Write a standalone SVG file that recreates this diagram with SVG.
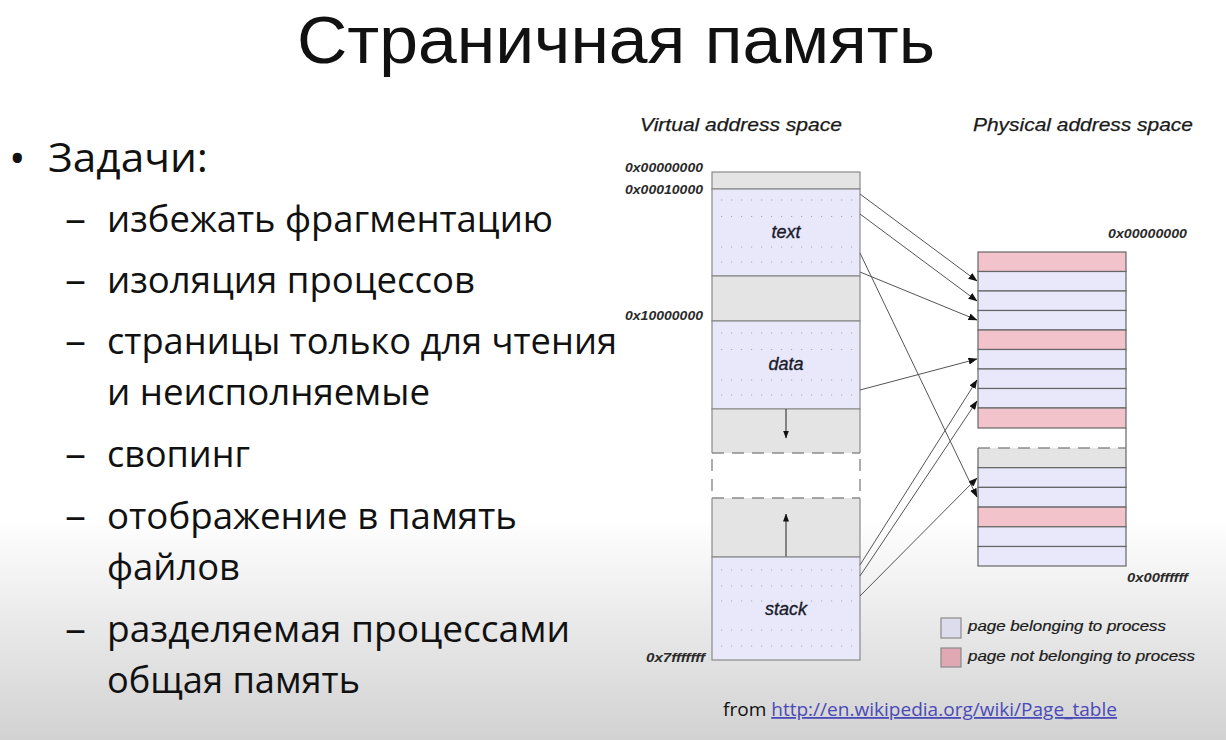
<svg xmlns="http://www.w3.org/2000/svg" width="1226" height="740" viewBox="0 0 1226 740">
  <defs>
    <linearGradient id="bg" x1="0" y1="0" x2="0" y2="1">
      <stop offset="0" stop-color="#ffffff"/>
      <stop offset="0.70" stop-color="#ffffff"/>
      <stop offset="0.83" stop-color="#ebebeb"/>
      <stop offset="1" stop-color="#d2d2d2"/>
    </linearGradient>
    <marker id="ah" markerWidth="9" markerHeight="7" refX="8.5" refY="3.5" orient="auto" markerUnits="userSpaceOnUse">
      <path d="M0,0 L9,3.5 L0,7 Z" fill="#111"/>
    </marker>
    <marker id="ahs" markerWidth="8" markerHeight="6" refX="7.5" refY="3" orient="auto" markerUnits="userSpaceOnUse">
      <path d="M0,0 L8,3 L0,6 Z" fill="#111"/>
    </marker>
  </defs>
  <style>
    .slide { font-family: "Open Sans", "Noto Sans", "DejaVu Sans", sans-serif; fill: #111; }
    .item { font-size: 36px; }
    .hdr { font-family: "Liberation Sans", Arial, sans-serif; font-style: italic; font-size: 18px; fill: #1a1a1a; stroke: #1a1a1a; stroke-width: 0.25; }
    .hex { font-family: "Liberation Sans", Arial, sans-serif; font-style: italic; font-weight: bold; font-size: 12.5px; fill: #2a2a2a; }
    .seg { font-family: "Liberation Sans", Arial, sans-serif; font-style: italic; font-size: 18px; fill: #1a1a2a; stroke: #1a1a2a; stroke-width: 0.35; text-anchor: middle; }
    .leg { font-family: "Liberation Sans", Arial, sans-serif; font-style: italic; font-size: 14px; fill: #1a1a1a; stroke: #1a1a1a; stroke-width: 0.2; }
    .lav { fill: #e8e8fa; stroke: #8a8a8a; stroke-width: 1.2; }
    .gry { fill: #e4e4e4; stroke: #8a8a8a; stroke-width: 1.2; }
    .pnk { fill: #f3c3cb; stroke: #666; stroke-width: 1.2; }
    .plav { fill: #e8e8fa; stroke: #666; stroke-width: 1.2; }
    .dots { stroke: #a8a8b8; stroke-width: 1.2; stroke-dasharray: 1.2 8.8; }
    .dash { stroke: #8a8a8a; stroke-width: 1.4; stroke-dasharray: 12 8; fill: none; }
    .conn line { stroke: #555; stroke-width: 1; marker-end: url(#ah); }
  </style>

  <rect x="0" y="0" width="1226" height="740" fill="url(#bg)"/>

  <!-- slide title -->
  <text id="title" x="297" y="63" font-family="'Liberation Sans', Arial, sans-serif" font-size="67" fill="#111" textLength="638" lengthAdjust="spacingAndGlyphs">Страничная память</text>

  <!-- bullet list -->
  <g id="bullets" class="slide">
    <text x="9" y="174" font-size="44">•</text>
    <text x="48" y="172" font-size="40" textLength="160" lengthAdjust="spacingAndGlyphs">Задачи:</text>
    <g class="item">
      <text x="65" y="232" textLength="21" lengthAdjust="spacingAndGlyphs">–</text>
      <text x="107" y="232" textLength="446" lengthAdjust="spacingAndGlyphs">избежать фрагментацию</text>
      <text x="65" y="293" textLength="21" lengthAdjust="spacingAndGlyphs">–</text>
      <text x="107" y="293" textLength="368" lengthAdjust="spacingAndGlyphs">изоляция процессов</text>
      <text x="65" y="354" textLength="21" lengthAdjust="spacingAndGlyphs">–</text>
      <text x="107" y="354" textLength="510" lengthAdjust="spacingAndGlyphs">страницы только для чтения</text>
      <text x="107" y="405" textLength="323" lengthAdjust="spacingAndGlyphs">и неисполняемые</text>
      <text x="65" y="467" textLength="21" lengthAdjust="spacingAndGlyphs">–</text>
      <text x="107" y="467" textLength="143" lengthAdjust="spacingAndGlyphs">свопинг</text>
      <text x="65" y="529" textLength="21" lengthAdjust="spacingAndGlyphs">–</text>
      <text x="107" y="529" textLength="410" lengthAdjust="spacingAndGlyphs">отображение в память</text>
      <text x="107" y="580" textLength="133" lengthAdjust="spacingAndGlyphs">файлов</text>
      <text x="65" y="642" textLength="21" lengthAdjust="spacingAndGlyphs">–</text>
      <text x="107" y="642" textLength="463" lengthAdjust="spacingAndGlyphs">разделяемая процессами</text>
      <text x="107" y="693" textLength="253" lengthAdjust="spacingAndGlyphs">общая память</text>
    </g>
  </g>

  <!-- column headers -->
  <text id="hdr-virtual" class="hdr" x="640" y="131" textLength="202" lengthAdjust="spacingAndGlyphs">Virtual address space</text>
  <text id="hdr-physical" class="hdr" x="973" y="131" textLength="220" lengthAdjust="spacingAndGlyphs">Physical address space</text>

  <!-- virtual address space -->
  <g id="virtual">
    <rect class="gry" x="712" y="172" width="148" height="17"/>
    <g id="v-text">
      <rect class="lav" x="712" y="189" width="148" height="87"/>
      <line class="dots" x1="721" y1="200" x2="856" y2="200"/>
      <line class="dots" x1="721" y1="216.5" x2="856" y2="216.5"/>
      <line class="dots" x1="721" y1="247" x2="856" y2="247"/>
      <line class="dots" x1="721" y1="262" x2="856" y2="262"/>
      <text class="seg" x="786" y="238">text</text>
    </g>
    <rect class="gry" x="712" y="276" width="148" height="45"/>
    <g id="v-data">
      <rect class="lav" x="712" y="321" width="148" height="88"/>
      <line class="dots" x1="721" y1="333" x2="856" y2="333"/>
      <line class="dots" x1="721" y1="349.5" x2="856" y2="349.5"/>
      <line class="dots" x1="721" y1="380" x2="856" y2="380"/>
      <line class="dots" x1="721" y1="395" x2="856" y2="395"/>
      <text class="seg" x="786" y="370">data</text>
    </g>
    <g id="v-heap">
      <rect x="712" y="409" width="148" height="44" fill="#e4e4e4"/>
      <path d="M712,453 V409 H860 V453" fill="none" stroke="#8a8a8a" stroke-width="1.2"/>
      <line class="dash" x1="712" y1="453" x2="860" y2="453"/>
      <line x1="786" y1="409" x2="786" y2="438" stroke="#222" stroke-width="1" marker-end="url(#ahs)"/>
    </g>
    <g id="v-gap">
      <line class="dash" x1="712" y1="459" x2="712" y2="493"/>
      <line class="dash" x1="860" y1="459" x2="860" y2="493"/>
    </g>
    <g id="v-stackgrow">
      <rect x="712" y="498" width="148" height="59" fill="#e4e4e4"/>
      <path d="M712,498 V557 H860 V498" fill="none" stroke="#8a8a8a" stroke-width="1.2"/>
      <line class="dash" x1="712" y1="498" x2="860" y2="498"/>
      <line x1="786" y1="557" x2="786" y2="514" stroke="#222" stroke-width="1" marker-end="url(#ahs)"/>
    </g>
    <g id="v-stack">
      <rect class="lav" x="712" y="557" width="148" height="103"/>
      <line class="dots" x1="721" y1="570" x2="856" y2="570"/>
      <line class="dots" x1="721" y1="586" x2="856" y2="586"/>
      <line class="dots" x1="721" y1="601" x2="856" y2="601"/>
      <line class="dots" x1="721" y1="630" x2="856" y2="630"/>
      <line class="dots" x1="721" y1="646" x2="856" y2="646"/>
      <text class="seg" x="786" y="615">stack</text>
    </g>
    <text class="hex" x="625" y="172" textLength="78" lengthAdjust="spacingAndGlyphs">0x00000000</text>
    <text class="hex" x="625" y="194" textLength="78" lengthAdjust="spacingAndGlyphs">0x00010000</text>
    <text class="hex" x="625" y="320" textLength="78" lengthAdjust="spacingAndGlyphs">0x10000000</text>
    <text class="hex" x="646" y="662" textLength="59" lengthAdjust="spacingAndGlyphs">0x7fffffff</text>
  </g>

  <!-- physical address space -->
  <g id="physical">
    <rect class="pnk" x="978" y="252" width="148" height="19.5"/>
    <rect class="plav" x="978" y="271.5" width="148" height="19.5"/>
    <rect class="plav" x="978" y="291" width="148" height="19.5"/>
    <rect class="plav" x="978" y="310.5" width="148" height="19.5"/>
    <rect class="pnk" x="978" y="330" width="148" height="19.5"/>
    <rect class="plav" x="978" y="349.5" width="148" height="19.5"/>
    <rect class="plav" x="978" y="369" width="148" height="19.5"/>
    <rect class="plav" x="978" y="388.5" width="148" height="19.5"/>
    <rect class="pnk" x="978" y="408" width="148" height="20"/>
    <line x1="1126" y1="428" x2="1126" y2="448" stroke="#666" stroke-width="1.2"/>
    <rect x="978" y="448" width="148" height="19.7" fill="#e4e4e4"/>
    <path d="M978,448 V467.7 H1126 V448" fill="none" stroke="#666" stroke-width="1.2"/>
    <line class="dash" x1="978" y1="448" x2="1126" y2="448" stroke-dasharray="16 8"/>
    <rect class="plav" x="978" y="467.7" width="148" height="19.7"/>
    <rect class="plav" x="978" y="487.4" width="148" height="19.7"/>
    <rect class="pnk" x="978" y="507.1" width="148" height="19.7"/>
    <rect class="plav" x="978" y="526.8" width="148" height="19.7"/>
    <rect class="plav" x="978" y="546.5" width="148" height="19.5"/>
    <text class="hex" x="1108" y="238" textLength="79" lengthAdjust="spacingAndGlyphs">0x00000000</text>
    <text class="hex" x="1127" y="582" textLength="61" lengthAdjust="spacingAndGlyphs">0x00ffffff</text>
  </g>

  <!-- page mappings -->
  <g id="connectors" class="conn">
    <line x1="860" y1="194" x2="977" y2="281"/>
    <line x1="860" y1="214" x2="977" y2="301"/>
    <line x1="860" y1="272" x2="977" y2="320"/>
    <line x1="860" y1="253" x2="977" y2="497"/>
    <line x1="860" y1="390" x2="977" y2="359"/>
    <line x1="860" y1="565" x2="977" y2="380"/>
    <line x1="860" y1="576" x2="977" y2="401"/>
    <line x1="860" y1="596" x2="977" y2="478"/>
  </g>

  <!-- legend -->
  <g id="legend">
    <rect x="941" y="618" width="20" height="20" style="fill:#dcdcec;stroke:#8a8a8a;stroke-width:1.2"/>
    <text class="leg" x="968" y="631" textLength="198" lengthAdjust="spacingAndGlyphs">page belonging to process</text>
    <rect x="941" y="648" width="20" height="19" style="fill:#e0a8b2;stroke:#8a8a8a;stroke-width:1.2"/>
    <text class="leg" x="968" y="661" textLength="227" lengthAdjust="spacingAndGlyphs">page not belonging to process</text>
  </g>

  <!-- source note -->
  <text id="source" class="slide" x="723" y="716" font-size="18" fill="#333" textLength="394" lengthAdjust="spacingAndGlyphs">from <tspan fill="#4a4ab8" text-decoration="underline">http://en.wikipedia.org/wiki/Page_table</tspan></text>
</svg>
